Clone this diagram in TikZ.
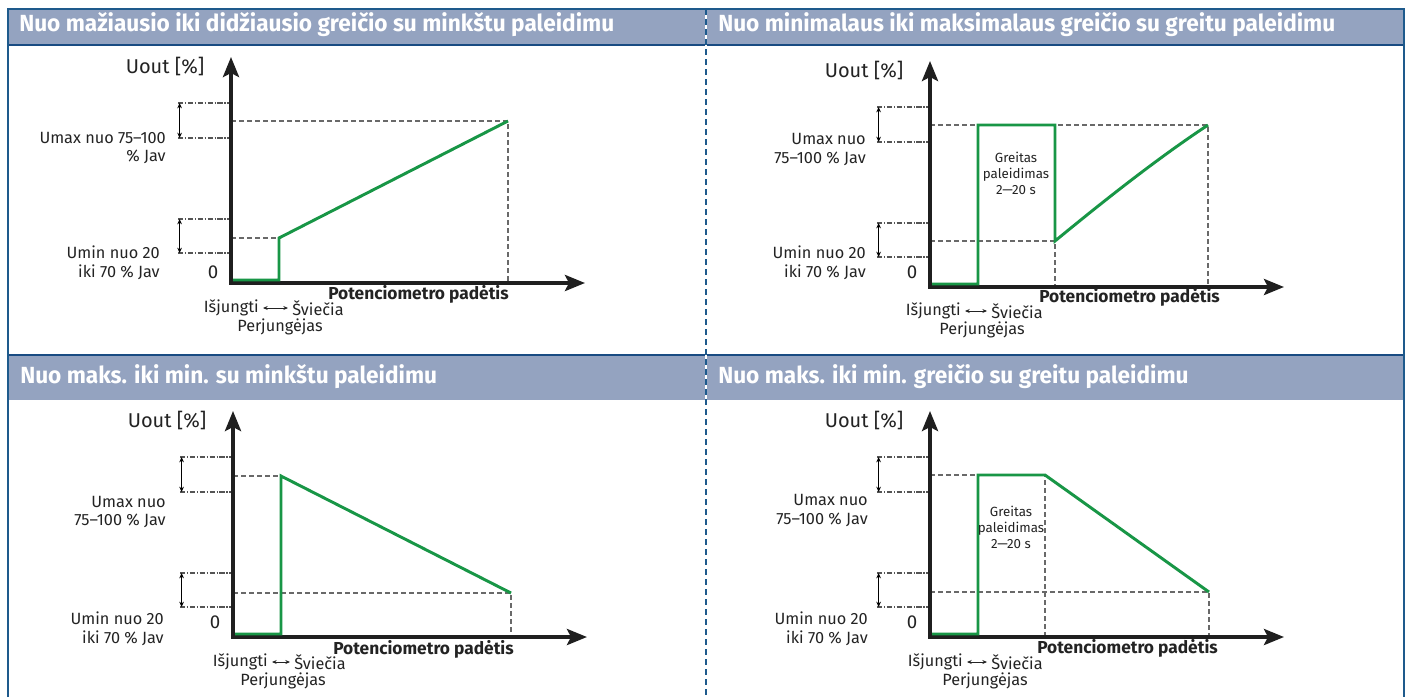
\documentclass[tikz,border=0pt]{standalone}
\usepackage{fontspec}
\setmainfont{Fira Sans}
\newfontfamily\headfont[FakeStretch=0.97]{Fira Sans}
\usetikzlibrary{arrows.meta}
\definecolor{headfill}{RGB}{148,163,192}
\definecolor{frameblue}{RGB}{30,90,140}
\definecolor{headline}{RGB}{25,75,130}
\definecolor{curvegreen}{RGB}{24,150,70}
\definecolor{txt}{RGB}{35,35,35}
\definecolor{dashgray}{RGB}{105,105,105}
\tikzset{
  axisline/.style={line width=2.8pt, draw=black!88, line join=miter,
    {Stealth[length=15pt,width=12pt,inset=3pt]}-{Stealth[length=15pt,width=12pt,inset=3pt]}},
  greenline/.style={line width=2.2pt, draw=curvegreen, line join=miter},
  guideline/.style={line width=0.8pt, draw=dashgray, dash pattern=on 3.5pt off 2.5pt},
  bracketline/.style={line width=1pt, draw=dashgray!80!black, dash pattern=on 4pt off 1.2pt on 1pt off 1.2pt},
  bracketarrow/.style={line width=0.8pt, draw=black, {Stealth[length=4pt,width=3.5pt]}-{Stealth[length=4pt,width=3.5pt]}},
  smallarrow/.style={line width=0.7pt, draw=txt, {Stealth[length=3.5pt,width=3pt]}-{Stealth[length=3.5pt,width=3pt]}, shorten <=3pt, shorten >=3pt},
  lbl/.style={font=\fontsize{12.2}{14}\selectfont, text=txt, inner sep=0pt},
  bigtxt/.style={font=\fontsize{15}{18}\selectfont, text=txt, inner sep=0pt},
  zerotxt/.style={font=\fontsize{14}{16}\selectfont, text=txt, inner sep=0pt},
  smalltxt/.style={font=\fontsize{10}{12}\selectfont, text=txt, inner sep=0pt, align=center},
  boldtxt/.style={font=\fontsize{13}{15}\selectfont\bfseries, text=txt, inner sep=0pt},
  headtxt/.style={font=\headfont\fontsize{17.5}{19}\selectfont\bfseries, text=white, inner sep=0pt, text height=0.72em, text depth=0pt}
}
\newcommand\axesgroup[1]{%
  \coordinate (#1O) at (0,0);
  \coordinate (#1Y) at (0,-226);
  \coordinate (#1X) at (354,0);
  \draw[axisline] (#1Y) -- (#1O) -- (#1X);
  \coordinate (#1ua) at (-53,-180); \coordinate (#1ub) at (-2,-180);
  \coordinate (#1uc) at (-53,-145); \coordinate (#1ud) at (-2,-145);
  \coordinate (#1la) at (-53,-64); \coordinate (#1lb) at (-2,-64);
  \coordinate (#1lc) at (-53,-30); \coordinate (#1ld) at (-2,-30);
  \draw[bracketline] (#1ua) -- (#1ub);
  \draw[bracketline] (#1uc) -- (#1ud);
  \draw[bracketline] (#1la) -- (#1lb);
  \draw[bracketline] (#1lc) -- (#1ld);
  \draw[bracketarrow] ([xshift=1.2pt]#1ua) -- ([xshift=1.2pt]#1uc);
  \draw[bracketarrow] ([xshift=1.2pt]#1la) -- ([xshift=1.2pt]#1lc);
  \node[bigtxt] (#1uout) at (-66,-217) {Uout [\%]};
}
\begin{document}
\begin{tikzpicture}[x=0.75pt,y=-0.75pt]
\useasboundingbox (0,0) rectangle (1408,697);
\fill[white] (0,0) rectangle (1408,697);
% headers
\fill[headfill] (8,9) rectangle (1404,45);
\fill[headfill] (8,355) rectangle (1404,400);
\draw[headline, line width=1.6pt] (8,45) -- (1404,45);
\draw[headline, line width=1.4pt] (8,355) -- (1404,355);
\draw[frameblue, line width=1.2pt] (8,697) -- (8,9) -- (1404,9) -- (1404,697);
\draw[white, line width=1.6pt] (706,9) -- (706,697);
\draw[frameblue, line width=1.5pt, dash pattern=on 4.5pt off 3pt] (706,9) -- (706,697);
\node[headtxt, anchor=west] (h1) at (19,27) {Nuo mažiausio iki didžiausio greičio su minkštu paleidimu};
\node[headtxt, anchor=west] (h2) at (718,27) {Nuo minimalaus iki maksimalaus greičio su greitu paleidimu};
\node[headtxt, anchor=west] (h3) at (20,379) {Nuo maks. iki min. su minkštu paleidimu};
\node[headtxt, anchor=west] (h4) at (718,379) {Nuo maks. iki min. greičio su greitu paleidimu};

% ---------------- Panel 1
\coordinate (p1max) at (231,121); \coordinate (p1maxe) at (508,121); \coordinate (p1end) at (508,283);
\coordinate (p1min) at (231,238); \coordinate (p1mine) at (279,238);
\draw[guideline] (p1max) -- (p1maxe) -- (p1end);
\draw[guideline] (p1min) -- (p1mine);
\begin{scope}[shift={(231,283)}]\axesgroup{a}\end{scope}
\coordinate (g1a) at (233,280); \coordinate (g1b) at (279,280);
\draw[greenline] (g1a) -- (g1b) -- (p1mine) -- (p1maxe);
\node[lbl, anchor=east, align=right] (u1max) at (166,148) {Umax nuo 75–100\\\% Jav};
\node[lbl, anchor=east, align=right] (u1min) at (160,262.5) {Umin nuo 20\\iki 70 \% Jav};
\node[zerotxt] (z1) at (213,272) {0};
\node[boldtxt, anchor=east] (pot1) at (509,294) {Potenciometro padėtis};
\node[lbl, anchor=east] (isj1) at (259,308) {Išjungti};
\node[lbl, anchor=west] (svi1) at (292,308) {Šviečia};
\node[lbl] (per1) at (280,326.5) {Perjungėjas};
\draw[smallarrow] (isj1.east) -- (svi1.west);

% ---------------- Panel 2
\coordinate (p2max) at (930,125); \coordinate (p2maxe) at (1208,125); \coordinate (p2end) at (1208,287);
\coordinate (p2min) at (930,241); \coordinate (p2mine) at (1055,241); \coordinate (p2mid) at (1055,287);
\draw[guideline] (p2max) -- (p2maxe) -- (p2end);
\draw[guideline] (p2min) -- (p2mine) -- (p2mid);
\begin{scope}[shift={(930,287)}]\axesgroup{b}\end{scope}
\coordinate (g2a) at (932,284); \coordinate (g2b) at (978,284); \coordinate (g2c) at (978,125); \coordinate (g2d) at (1055,125);
\draw[greenline] (g2a) -- (g2b) -- (g2c) -- (g2d) -- (p2mine) .. controls (1100,204) and (1155,160) .. (p2maxe);
\node[smalltxt] (gr2) at (1016,173) {Greitas\\paleidimas\\2—20 s};
\node[lbl, anchor=east, align=right] (u2max) at (866,149.5) {Umax nuo\\75–100 \% Jav};
\node[lbl, anchor=east, align=right] (u2min) at (866,262.5) {Umin nuo 20\\iki 70 \% Jav};
\node[zerotxt] (z2) at (912,272) {0};
\node[boldtxt, anchor=east] (pot2) at (1220,297) {Potenciometro padėtis};
\node[lbl, anchor=east] (isj2) at (961,311) {Išjungti};
\node[lbl, anchor=west] (svi2) at (991,311) {Šviečia};
\node[lbl] (per2) at (982,329.5) {Perjungėjas};
\draw[smallarrow] (isj2.east) -- (svi2.west);

% ---------------- Panel 3
\coordinate (p3max) at (233,476); \coordinate (p3maxe) at (281,476);
\coordinate (p3min) at (233,593); \coordinate (p3mine) at (511,593); \coordinate (p3end) at (511,637);
\draw[guideline] (p3max) -- (p3maxe);
\draw[guideline] (p3min) -- (p3mine) -- (p3end);
\begin{scope}[shift={(233,637)}]\axesgroup{c}\end{scope}
\coordinate (g3a) at (235,634); \coordinate (g3b) at (281,634);
\draw[greenline] (g3a) -- (g3b) -- (p3maxe) -- (p3mine);
\node[lbl, anchor=east, align=right] (u3max) at (166,512) {Umax nuo\\75–100 \% Jav};
\node[lbl, anchor=east, align=right] (u3min) at (164,628.5) {Umin nuo 20\\iki 70 \% Jav};
\node[zerotxt] (z3) at (215,622) {0};
\node[boldtxt, anchor=east] (pot3) at (514,649) {Potenciometro padėtis};
\node[lbl, anchor=east] (isj3) at (268,662) {Išjungti};
\node[lbl, anchor=west] (svi3) at (294,662) {Šviečia};
\node[lbl] (per3) at (283,681) {Perjungėjas};
\draw[smallarrow] (isj3.east) -- (svi3.west);

% ---------------- Panel 4
\coordinate (p4max) at (930,475); \coordinate (p4maxe) at (1045,475); \coordinate (p4mid) at (1045,637);
\coordinate (p4min) at (930,592); \coordinate (p4mine) at (1209,592); \coordinate (p4end) at (1209,637);
\draw[guideline] (p4max) -- (p4maxe) -- (p4mid);
\draw[guideline] (p4min) -- (p4mine) -- (p4end);
\begin{scope}[shift={(930,637)}]\axesgroup{d}\end{scope}
\coordinate (g4a) at (932,634); \coordinate (g4b) at (978,634); \coordinate (g4c) at (978,475);
\draw[greenline] (g4a) -- (g4b) -- (g4c) -- (p4maxe) -- (p4mine);
\node[smalltxt] (gr4) at (1011,527) {Greitas\\paleidimas\\2—20 s};
\node[lbl, anchor=east, align=right] (u4max) at (868,510.5) {Umax nuo\\75–100 \% Jav};
\node[lbl, anchor=east, align=right] (u4min) at (868,628.5) {Umin nuo 20\\iki 70 \% Jav};
\node[zerotxt] (z4) at (912,622) {0};
\node[boldtxt, anchor=east] (pot4) at (1218,648) {Potenciometro padėtis};
\node[lbl, anchor=east] (isj4) at (963,662) {Išjungti};
\node[lbl, anchor=west] (svi4) at (991,662) {Šviečia};
\node[lbl] (per4) at (985,680.5) {Perjungėjas};
\draw[smallarrow] (isj4.east) -- (svi4.west);
\end{tikzpicture}
\end{document}
